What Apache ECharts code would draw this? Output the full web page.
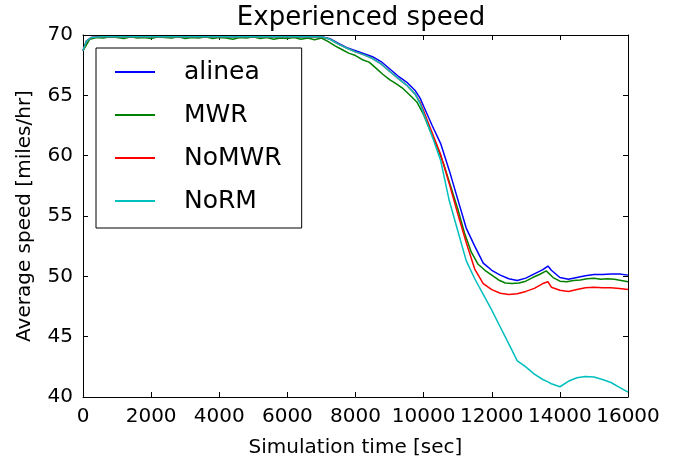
<!DOCTYPE html>
<html><head><meta charset="utf-8">
<script src="https://cdn.jsdelivr.net/npm/echarts@6/dist/echarts.min.js"></script>
<style>html,body{margin:0;padding:0;background:#fff}#c{width:686px;height:463px}</style>
</head><body><div id="c"></div>
<script>
const titleText = 'Experienced speed';
const xName = 'Simulation time [sec]';
const yName = 'Average speed [miles/hr]';
const seriesNames = ['alinea', 'MWR', 'NoMWR', 'NoRM'];

const timesMain = [0,100,250,500,1000,1500,2000,2500,3000,3500,4000,4500,5000,5500,6000,6500,7000,7250,7500,7750,8000,8250,8500,8750,9000,9250,9500,9750,9900,10000,10250,10500,10750,11000,11250,11500,11750,12000,12250,12500,12750,13000,13250,13500,13650,13750,14000,14250,14500,14750,15000,15250,15500,15750,16000];

const alinea = [68.7,69.5,69.8,69.85,69.85,69.85,69.85,69.85,69.85,69.85,69.85,69.85,69.85,69.85,69.85,69.85,69.85,69.7,69.3,68.95,68.7,68.45,68.2,67.8,67.2,66.6,66.1,65.4,64.75,64.1,62.5,61.0,58.8,56.4,54.0,52.5,51.1,50.5,50.1,49.8,49.65,49.85,50.2,50.55,50.85,50.5,49.9,49.75,49.9,50.05,50.15,50.15,50.2,50.2,50.1];

const noMWR = [68.7,69.5,69.8,69.85,69.85,69.85,69.85,69.85,69.85,69.85,69.85,69.85,69.85,69.85,69.85,69.85,69.85,69.65,69.25,68.9,68.6,68.35,68.05,67.6,67.0,66.4,65.85,65.1,64.4,63.7,61.9,60.1,57.7,55.2,52.8,50.6,49.4,48.9,48.6,48.5,48.55,48.75,49.0,49.4,49.55,49.1,48.85,48.75,48.9,49.05,49.1,49.05,49.05,49.0,48.9];

const noRM = [68.7,69.5,69.8,69.85,69.85,69.85,69.85,69.85,69.85,69.85,69.85,69.85,69.85,69.85,69.85,69.85,69.85,69.65,69.25,68.9,68.6,68.35,68.05,67.6,67.0,66.4,65.85,65.1,64.3,63.5,61.6,59.6,56.3,53.8,51.3,49.8,48.5,47.2,45.8,44.4,43.0,42.5,41.9,41.45,41.25,41.1,40.85,41.3,41.6,41.7,41.65,41.45,41.2,40.8,40.4];

const timesMWR = [0,200,400,600,800,1000,1200,1400,1600,1800,2000,2200,2400,2600,2800,3000,3200,3400,3600,3800,4000,4200,4400,4600,4800,5000,5200,5400,5600,5800,6000,6200,6400,6600,6800,7000,7200,7400,7600,7800,8000,8200,8400,8600,8800,9000,9200,9400,9600,9800,10000,10200,10400,10600,10800,11000,11200,11400,11600,11800,12000,12200,12400,12600,12800,13000,13200,13400,13600,13800,14000,14200,14400,14600,14800,15000,15200,15400,15600,15800,16000];

const mwr = [68.7,69.65,69.8,69.75,69.85,69.8,69.7,69.85,69.75,69.8,69.7,69.85,69.8,69.75,69.85,69.7,69.8,69.75,69.85,69.7,69.8,69.75,69.65,69.8,69.75,69.85,69.7,69.8,69.65,69.75,69.7,69.8,69.65,69.75,69.6,69.75,69.45,69.1,68.8,68.5,68.3,67.95,67.75,67.25,66.75,66.3,65.95,65.55,65.0,64.45,63.4,62.0,60.7,59.2,57.4,55.6,53.6,52.0,51.0,50.5,50.1,49.7,49.45,49.4,49.45,49.6,49.9,50.15,50.45,49.9,49.6,49.55,49.65,49.7,49.8,49.85,49.75,49.8,49.75,49.65,49.55];

const xTicks = {min: 0, max: 16000, interval: 2000};
const yTicks = {min: 40, max: 70, interval: 5};

function pairs(xs, ys) { return xs.map((x, i) => [x, ys[i]]); }

const font = 'DejaVu Sans';
const chart = echarts.init(document.getElementById('c'), null, {renderer: 'canvas'});

const tickStyle = {show: true, inside: true, length: 5, lineStyle: {color: '#000', width: 1}};
const lineStyle = {color: '#000', width: 1};
const plain = v => String(v);

chart.setOption({
  animation: false,
  backgroundColor: '#fff',
  title: {text: titleText, left: 356, top: 0, textAlign: 'center',
    textStyle: {fontFamily: font, fontSize: 26, fontWeight: 'normal', color: '#000'}},
  grid: {left: 83, right: 58, top: 35, bottom: 66, containLabel: false},
  legend: {
    orient: 'vertical', left: 96, top: 48,
    data: seriesNames.map(n => ({name: n, icon: 'rect'})),
    itemWidth: 40, itemHeight: 2, itemGap: 17,
    padding: [11, 20, 14, 19],
    borderColor: '#000', borderWidth: 1, backgroundColor: '#fff',
    textStyle: {fontFamily: font, fontSize: 25, color: '#000', lineHeight: 26, padding: [0, 0, 0, 24]}
  },
  xAxis: [{
    type: 'value', min: xTicks.min, max: xTicks.max, interval: xTicks.interval,
    name: xName, nameLocation: 'middle', nameGap: 41,
    nameTextStyle: {fontFamily: font, fontSize: 20, color: '#000'},
    axisLine: {show: true, lineStyle}, axisTick: tickStyle,
    axisLabel: {fontFamily: font, fontSize: 20, color: '#000', margin: 10, formatter: plain},
    splitLine: {show: false}
  }, {
    type: 'value', position: 'top', min: xTicks.min, max: xTicks.max, interval: xTicks.interval,
    axisLine: {show: true, onZero: false, lineStyle}, axisTick: tickStyle,
    axisLabel: {show: false}, splitLine: {show: false}
  }],
  yAxis: [{
    type: 'value', min: yTicks.min, max: yTicks.max, interval: yTicks.interval,
    name: yName, nameLocation: 'middle', nameGap: 48,
    nameTextStyle: {fontFamily: font, fontSize: 20, color: '#000'},
    axisLine: {show: true, lineStyle}, axisTick: tickStyle,
    axisLabel: {fontFamily: font, fontSize: 20, color: '#000', margin: 10, formatter: plain},
    splitLine: {show: false}
  }, {
    type: 'value', position: 'right', min: yTicks.min, max: yTicks.max, interval: yTicks.interval,
    axisLine: {show: true, onZero: false, lineStyle}, axisTick: tickStyle,
    axisLabel: {show: false}, splitLine: {show: false}
  }],
  series: [
    {name: seriesNames[0], type: 'line', data: pairs(timesMain, alinea), color: '#0000ff'},
    {name: seriesNames[1], type: 'line', data: pairs(timesMWR, mwr), color: '#008000'},
    {name: seriesNames[2], type: 'line', data: pairs(timesMain, noMWR), color: '#ff0000'},
    {name: seriesNames[3], type: 'line', data: pairs(timesMain, noRM), color: '#00bfbf'}
  ].map(s => Object.assign(s, {showSymbol: false, symbol: 'none', lineStyle: {width: 1.5}, clip: true}))
});
</script></body></html>
